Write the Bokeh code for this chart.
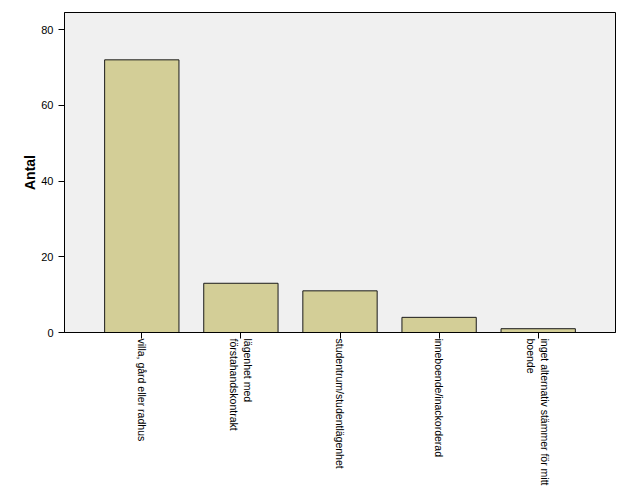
import math
from bokeh.plotting import figure
from bokeh.models import ColumnDataSource, FixedTicker, Range1d
from bokeh.embed import file_html
from bokeh.resources import INLINE

categories = [
    "villa, gård eller radhus",
    "lägenhet med\nförstahandskontrakt",
    "studentrum/studentlägenhet",
    "inneboende/inackorderad",
    "inget alternativ stämmer för mitt\nboende",
]
counts = [72, 13, 11, 4, 1]
y_ticks = [0, 20, 40, 60, 80]

xs = list(range(len(categories)))
source = ColumnDataSource(data=dict(x=xs, count=counts))

p = figure(
    width=629, height=504,
    x_range=Range1d(-0.78, len(categories) - 1 + 0.78),
    y_range=Range1d(0, 84.5),
    output_backend="svg", toolbar_location=None,
    min_border_left=64, min_border_right=14, min_border_top=12, min_border_bottom=172,
)
p.background_fill_color = "#F0F0F0"
p.border_fill_color = "white"
p.outline_line_color = "black"
p.outline_line_width = 1
p.grid.visible = False

p.vbar(x="x", top="count", width=0.75, source=source,
       fill_color="#D3CE97", line_color="#1a1a1a", line_width=1)

for ax in (p.xaxis, p.yaxis):
    ax.axis_line_color = "black"
    ax.major_tick_line_color = "black"
    ax.minor_tick_line_color = None
    ax.major_tick_out = 6
    ax.major_tick_in = 0
    ax.major_label_text_font = "Liberation Sans"
    ax.major_label_text_color = "black"

# y axis
p.yaxis.ticker = FixedTicker(ticks=y_ticks)
p.yaxis.major_label_text_font_size = "11px"
p.yaxis.axis_label = "Antal"
p.yaxis.axis_label_text_font = "Liberation Sans"
p.yaxis.axis_label_text_font_style = "bold"
p.yaxis.axis_label_text_font_size = "14px"
p.yaxis.axis_label_text_color = "black"
p.yaxis.axis_label_standoff = 0

# x axis
p.xaxis.ticker = FixedTicker(ticks=xs)
p.xaxis.major_label_overrides = {i: c for i, c in zip(xs, categories)}
p.xaxis.major_label_orientation = -math.pi / 2
p.xaxis.major_label_standoff = 0
p.xaxis.major_label_text_font_size = "10.5px"

open("out.html", "w").write(file_html(p, INLINE))
